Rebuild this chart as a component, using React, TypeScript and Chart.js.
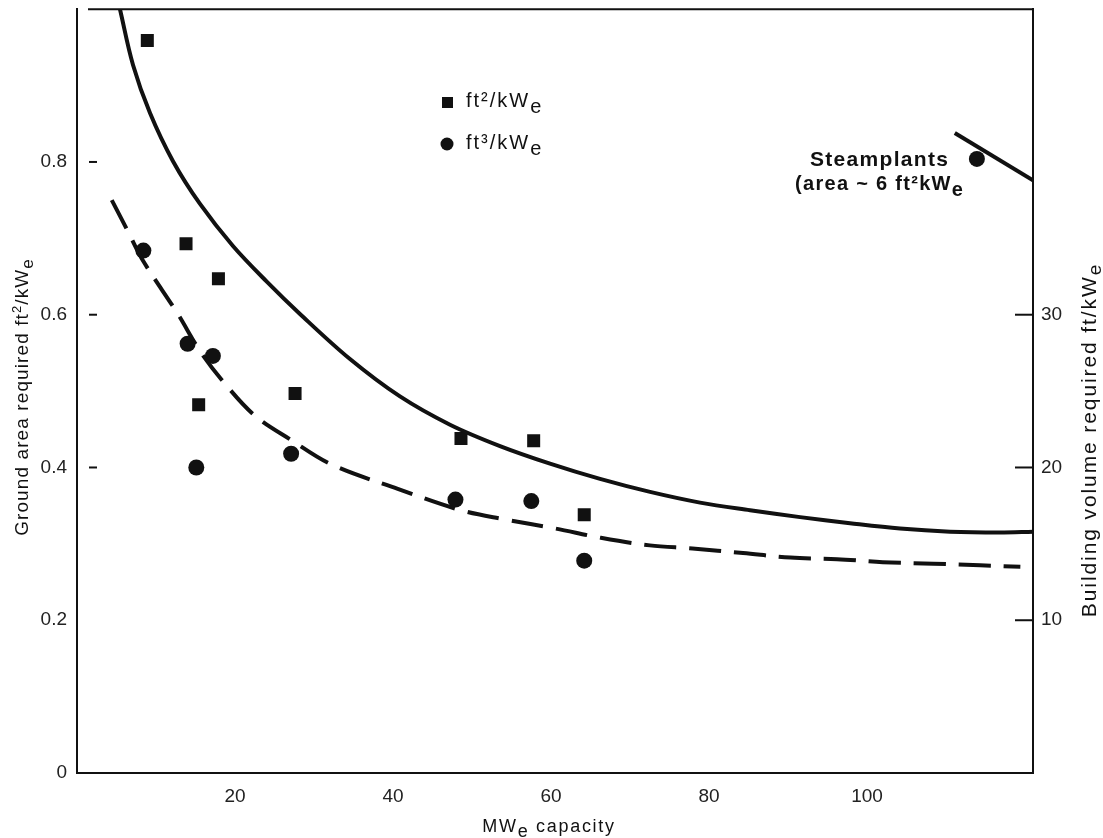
import React, { useEffect, useRef } from "react";
import { Chart, registerables } from "chart.js";

Chart.register(...registerables);

// ---- data ----
const xTicks = [20, 40, 60, 80, 100];
const areaTicks = [0, 0.2, 0.4, 0.6, 0.8];
const areaTickMarks = [0.4, 0.6, 0.8];
const volumeTicks = [10, 20, 30];

// ft²/kWe (squares, left axis)
const squareX = [8.9, 13.8, 15.4, 17.9, 27.6, 48.6, 57.8, 64.2];
const squareArea = [0.959, 0.693, 0.482, 0.647, 0.497, 0.438, 0.435, 0.338];

// ft³/kWe (circles, right axis)
const circleX = [8.4, 14.0, 15.1, 17.2, 27.1, 47.9, 57.5, 64.2, 113.9];
const circleVolume = [34.2, 28.1, 20.0, 27.3, 20.9, 17.9, 17.8, 13.9, 40.2];

// solid fitted curve (area, left axis)
const areaCurveX = [5.44, 7.09, 9.24, 12.15, 15.57, 19.74, 24.05, 28.22, 34.55, 40.88, 47.21, 53.54, 59.87, 66.2, 72.53, 78.86, 85.19, 91.52, 97.84, 104.17, 110.5, 116.8, 121];
const areaCurveY = [1.0, 0.927, 0.864, 0.801, 0.745, 0.69, 0.643, 0.601, 0.542, 0.493, 0.456, 0.428, 0.405, 0.385, 0.368, 0.354, 0.344, 0.335, 0.327, 0.32, 0.316, 0.315, 0.316];

// steamplants segment (left axis)
const steamX = [111.1, 121];
const steamY = [0.838, 0.776];

// dashed fitted curve (volume, right axis)
const volCurveX = [4.4, 6.5, 8.4, 12.7, 15.6, 18.7, 22.5, 27.1, 32.2, 40.6, 48.6, 54.2, 60.6, 66.3, 72.5, 77.9, 84.3, 90.3, 96.2, 102.0, 108.4, 114.3, 119.4];
const volCurveY = [37.5, 35.4, 33.5, 30.1, 27.6, 25.5, 23.4, 21.8, 20.2, 18.6, 17.2, 16.6, 16.0, 15.4, 14.9, 14.7, 14.4, 14.1, 14.0, 13.8, 13.7, 13.6, 13.5];

const FONT = "'Liberation Sans', Arial, Helvetica, sans-serif";
const INK = "#111";

type Seg = { t: string; size: number; dy?: number; weight?: string };

function drawRich(ctx: CanvasRenderingContext2D, segs: Seg[], x: number, y: number, align: "left" | "center", spacing: number) {
  ctx.save();
  (ctx as any).letterSpacing = spacing + "px";
  ctx.textBaseline = "alphabetic";
  ctx.textAlign = "left";
  let total = 0;
  const widths = segs.map((s) => {
    ctx.font = `${s.weight || "normal"} ${s.size}px ${FONT}`;
    const w = ctx.measureText(s.t).width;
    total += w;
    return w;
  });
  let cx = align === "center" ? x - total / 2 : x;
  segs.forEach((s, i) => {
    ctx.font = `${s.weight || "normal"} ${s.size}px ${FONT}`;
    ctx.fillText(s.t, cx, y + (s.dy || 0));
    cx += widths[i];
  });
  ctx.restore();
}

const decor = {
  id: "decor",
  afterDraw(chart: any) {
    const ctx: CanvasRenderingContext2D = chart.ctx;
    const { top, right } = chart.chartArea;
    const yS = chart.scales.y;
    const y2S = chart.scales.y2;
    ctx.save();
    ctx.strokeStyle = INK;
    ctx.fillStyle = INK;
    ctx.lineWidth = 2;
    // top border
    ctx.beginPath();
    ctx.moveTo(88, top);
    ctx.lineTo(right, top);
    ctx.stroke();
    // left inner tick dashes
    areaTickMarks.forEach((v) => {
      const py = yS.getPixelForValue(v);
      ctx.beginPath();
      ctx.moveTo(89, py);
      ctx.lineTo(97, py);
      ctx.stroke();
    });
    // right inner ticks
    volumeTicks.forEach((v) => {
      const py = y2S.getPixelForValue(v);
      ctx.beginPath();
      ctx.moveTo(right - 18, py);
      ctx.lineTo(right, py);
      ctx.stroke();
    });

    // x title
    drawRich(ctx, [
      { t: "MW", size: 18 },
      { t: "e", size: 18, dy: 5 },
      { t: " capacity", size: 18 },
    ], 549, 832, "center", 1.7);

    // left title (rotated)
    ctx.save();
    ctx.translate(28, 397);
    ctx.rotate(-Math.PI / 2);
    drawRich(ctx, [
      { t: "Ground area required ft", size: 19 },
      { t: "2", size: 13, dy: -7 },
      { t: "/kW", size: 19 },
      { t: "e", size: 17, dy: 5 },
    ], 0, 0, "center", 1.1);
    ctx.restore();

    // right title (rotated)
    ctx.save();
    ctx.translate(1096, 440);
    ctx.rotate(-Math.PI / 2);
    drawRich(ctx, [
      { t: "Building volume required ft/kW", size: 21 },
      { t: "e", size: 19, dy: 5 },
    ], 0, 0, "center", 1.9);
    ctx.restore();

    // legend
    ctx.fillRect(442, 97, 11, 11);
    ctx.beginPath();
    ctx.arc(447, 144, 6.5, 0, Math.PI * 2);
    ctx.fill();
    drawRich(ctx, [
      { t: "ft\u00b2/kW", size: 20 },
      { t: "e", size: 20, dy: 6 },
    ], 466, 107, "left", 2);
    drawRich(ctx, [
      { t: "ft\u00b3/kW", size: 20 },
      { t: "e", size: 20, dy: 6 },
    ], 466, 149, "left", 2);

    // Steamplants annotation
    drawRich(ctx, [{ t: "Steamplants", size: 21, weight: "bold" }], 810, 166, "left", 1.3);
    drawRich(ctx, [
      { t: "(area ~ 6 ft\u00b2kW", size: 20, weight: "bold" },
      { t: "e", size: 20, weight: "bold", dy: 6 },
    ], 795, 190, "left", 1.3);
    ctx.restore();
  },
};

export default function App() {
  const ref = useRef<HTMLCanvasElement>(null);
  useEffect(() => {
    const canvas = ref.current;
    if (!canvas) return;
    const tickFont = { family: FONT, size: 19 };
    const chart = new Chart(canvas, {
      type: "scatter",
      data: {
        datasets: [
          {
            label: "area fit",
            data: areaCurveX.map((x, i) => ({ x, y: areaCurveY[i] })),
            showLine: true,
            borderColor: INK,
            borderWidth: 4,
            pointRadius: 0,
            tension: 0.35,
            yAxisID: "y",
          },
          {
            label: "steamplants",
            data: steamX.map((x, i) => ({ x, y: steamY[i] })),
            showLine: true,
            borderColor: INK,
            borderWidth: 4,
            pointRadius: 0,
            yAxisID: "y",
          },
          {
            label: "volume fit",
            data: volCurveX.map((x, i) => ({ x, y: volCurveY[i] })),
            showLine: true,
            borderColor: INK,
            borderWidth: 4,
            borderDash: [32, 13],
            borderCapStyle: "butt",
            pointRadius: 0,
            tension: 0.35,
            yAxisID: "y2",
          },
          {
            label: "ft²/kWe",
            data: squareX.map((x, i) => ({ x, y: squareArea[i] })),
            pointStyle: "rect",
            pointRadius: 9.2,
            backgroundColor: INK,
            borderColor: INK,
            borderWidth: 0,
            yAxisID: "y",
          },
          {
            label: "ft³/kWe",
            data: circleX.map((x, i) => ({ x, y: circleVolume[i] })),
            pointStyle: "circle",
            pointRadius: 8,
            backgroundColor: INK,
            borderColor: INK,
            borderWidth: 0,
            yAxisID: "y2",
          },
        ],
      } as any,
      options: {
        responsive: false,
        animation: false,
        devicePixelRatio: 1,
        layout: { padding: { top: 8, left: 0, right: 0, bottom: 0 } },
        plugins: {
          legend: { display: false },
          tooltip: { enabled: false },
          title: { display: false },
        },
        scales: {
          x: {
            type: "linear",
            min: 0,
            max: 121,
            grid: { display: false, drawTicks: false },
            border: { display: true, color: INK, width: 2 },
            ticks: { font: tickFont, color: "#222", padding: 12, maxRotation: 0 },
            afterBuildTicks: (s: any) => {
              s.ticks = xTicks.map((v) => ({ value: v }));
            },
            afterFit: (s: any) => {
              s.height = 65;
              s.paddingLeft = 0;
              s.paddingRight = 0;
            },
          },
          y: {
            type: "linear",
            position: "left",
            min: 0,
            max: 1.0,
            grid: { display: false, drawTicks: false },
            border: { display: true, color: INK, width: 2 },
            ticks: {
              font: tickFont,
              color: "#222",
              padding: 10,
              callback: (v: any) => (v === 0 ? "0" : Number(v).toFixed(1)),
            },
            afterBuildTicks: (s: any) => {
              s.ticks = areaTicks.map((v) => ({ value: v }));
            },
            afterFit: (s: any) => {
              s.width = 77;
              s.paddingTop = 0;
              s.paddingBottom = 0;
            },
          },
          y2: {
            type: "linear",
            position: "right",
            min: 0,
            max: 50,
            grid: { display: false, drawTicks: false },
            border: { display: true, color: INK, width: 2 },
            ticks: { font: tickFont, color: "#222", padding: 8 },
            afterBuildTicks: (s: any) => {
              s.ticks = volumeTicks.map((v) => ({ value: v }));
            },
            afterFit: (s: any) => {
              s.width = 70;
              s.paddingTop = 0;
              s.paddingBottom = 0;
            },
          },
        },
      } as any,
      plugins: [decor],
    });
    return () => chart.destroy();
  }, []);
  return (
    <div style={{ position: "fixed", left: 0, top: 0, width: 1103, height: 838, background: "#fff" }}>
      <canvas ref={ref} width={1103} height={838} style={{ display: "block", width: 1103, height: 838 }} />
    </div>
  );
}
